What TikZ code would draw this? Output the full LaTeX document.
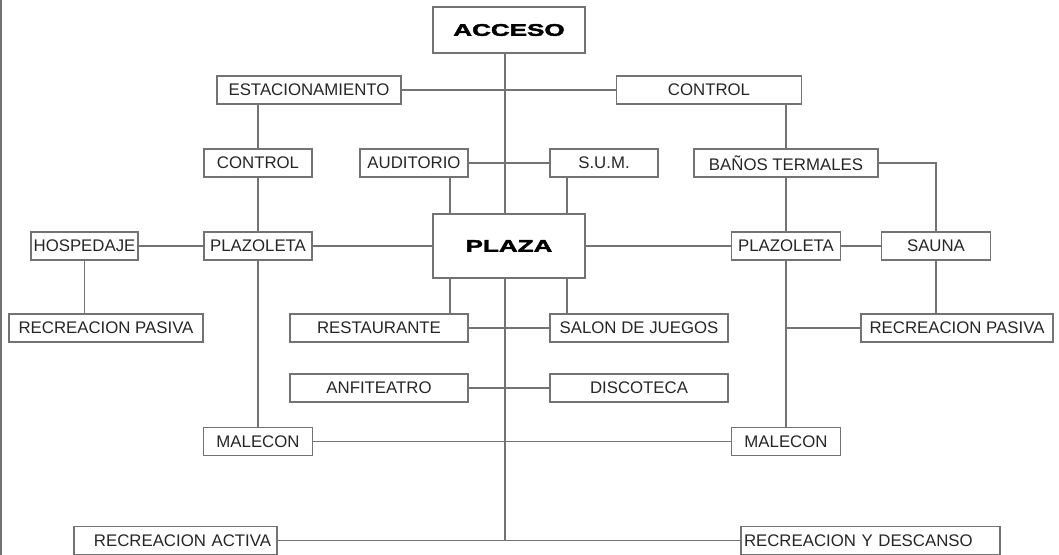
\documentclass[tikz,border=0pt]{standalone}
\usepackage{fontspec}
\setmainfont{Liberation Sans}
\newfontface\heavyfont{Liberation Sans Bold}[FakeStretch=1.55,FakeBold=2.5]
\usetikzlibrary{positioning}

\tikzset{
    box/.style={draw=black!55,line width=0.8pt,text=black!85,inner sep=0pt,
        minimum height=28*0.75pt,font=\fontsize{12.6}{14}\selectfont},
    wd/.style={minimum width=#1*0.75pt},
    mainbox/.style={box,wd=152,font=\fontsize{12.6}{14}\heavyfont,text=black},
    link/.style={draw=black!55,line width=0.8pt}
}

\begin{document}
\begin{tikzpicture}[x=0.75pt,y=-0.75pt]
    \useasboundingbox (0,0) rectangle (1059,555);
    \draw[link] (1,0) -- (1,555);

    % main nodes
    \node[mainbox,minimum height=46*0.75pt] (acceso) at (509,30) {ACCESO};
    \node[mainbox,minimum height=64*0.75pt] (plaza) at (509,246) {PLAZA};
    \coordinate (trunk) at (505,0);
    \coordinate (colL) at (450,0);
    \coordinate (colR) at (567,0);

    % rows
    \node[box,wd=184] (est) at (309,90) {ESTACIONAMIENTO};
    \node[box,wd=185] (ctrlr) at (709,90) {CONTROL};

    \node[box,wd=108] (ctrll) at (258,163) {CONTROL};
    \node[box,wd=108] (aud) at (414,163) {AUDITORIO};
    \node[box,wd=108] (sum) at (604,163) {S.U.M.};
    \node[box,wd=184] (banos) at (786,163) {BAÑOS TERMALES};

    \node[box,wd=107] (hosp) at (84.5,246) {HOSPEDAJE};
    \node[box,wd=108] (plzl) at (258,246) {PLAZOLETA};
    \node[box,wd=109] (plzr) at (786,246) {PLAZOLETA};
    \node[box,wd=109] (sauna) at (936,246) {SAUNA};

    \node[box,wd=194] (pasl) at (106,328) {RECREACION PASIVA};
    \node[box,wd=178] (rest) at (379,328) {RESTAURANTE};
    \node[box,wd=178] (salon) at (639,328) {SALON DE JUEGOS};
    \node[box,wd=192] (pasr) at (957,328) {RECREACION PASIVA};

    \node[box,wd=178] (anfi) at (379,388) {ANFITEATRO};
    \node[box,wd=178] (disco) at (639,388) {DISCOTECA};

    \node[box,wd=109] (malel) at (258,441.5) {MALECON};
    \node[box,wd=109] (maler) at (786,441.5) {MALECON};

    \node[box,text width=(203-12)*0.75pt,inner xsep=6*0.75pt,align=right] (recact) at (175.5,540.5) {RECREACION ACTIVA};
    \node[box,text width=(259-6)*0.75pt,inner xsep=3*0.75pt,align=left] (recdes) at (870.5,540.5) {RECREACION Y DESCANSO};

    % trunk
    \draw[link] (acceso.south -| trunk) -- (plaza.north -| trunk);
    \draw[link] (plaza.south -| trunk) -- (recact.east -| trunk);
    \draw[link] (recact.east) -- (recdes.west);

    % left branch
    \draw[link] (est.east) -- (ctrlr.west);
    \draw[link] (est.south -| ctrll) -- (ctrll.north);
    \draw[link] (ctrll.south) -- (plzl.north);
    \draw[link] (plzl.south) -- (malel.north);
    \draw[link] (hosp.east) -- (plzl.west);
    \draw[link] (hosp.south) -- (hosp.south |- pasl.north);
    \draw[link] (plzl.east) -- (plaza.west);

    % centre
    \draw[link] (aud.east) -- (sum.west);
    \draw[link] (aud.south -| colL) -- (plaza.north -| colL);
    \draw[link] (sum.south -| colR) -- (plaza.north -| colR);
    \draw[link] (plaza.south -| colL) -- (rest.north -| colL);
    \draw[link] (plaza.south -| colR) -- (salon.north -| colR);
    \draw[link] (rest.east) -- (salon.west);
    \draw[link] (anfi.east) -- (disco.west);
    \draw[link] (malel.east) -- (maler.west);

    % right branch
    \draw[link] (banos.north |- ctrlr.south) -- (banos.north);
    \draw[link] (banos.south) -- (plzr.north);
    \draw[link] (plzr.south) -- (maler.north);
    \draw[link] (plaza.east) -- (plzr.west);
    \draw[link] (plzr.east) -- (sauna.west);
    \draw[link] (banos.east) -| (sauna.north);
    \draw[link] (sauna.south) -- (sauna.south |- pasr.north);
    \draw[link] (plzr.south |- pasr.west) -- (pasr.west);
\end{tikzpicture}
\end{document}
